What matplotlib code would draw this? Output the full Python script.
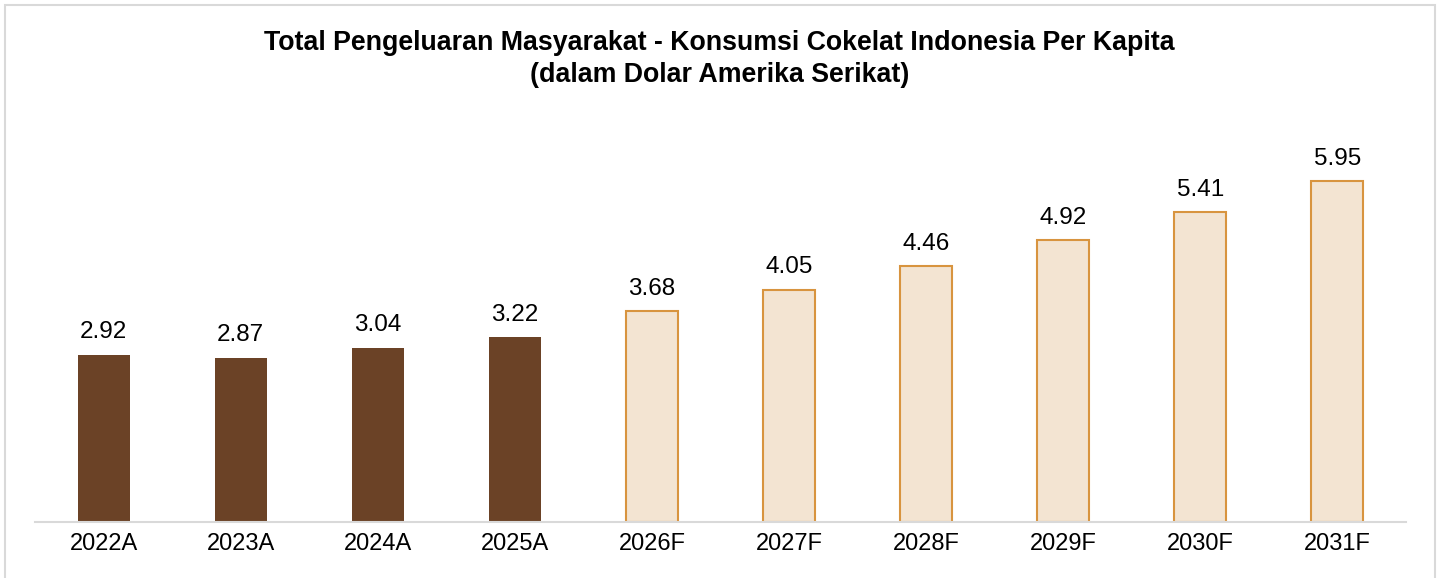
import matplotlib
matplotlib.use("Agg")
import matplotlib.pyplot as plt
from matplotlib.patches import Rectangle

plt.rcParams["font.family"] = ["Liberation Sans", "DejaVu Sans"]

years = ["2022A", "2023A", "2024A", "2025A", "2026F",
         "2027F", "2028F", "2029F", "2030F", "2031F"]
values = [2.92, 2.87, 3.04, 3.22, 3.68, 4.05, 4.46, 4.92, 5.41, 5.95]
is_forecast = [y.endswith("F") for y in years]

DARK = "#6B4226"
LIGHT = "#F3E4D2"
EDGE = "#D8943F"
GRID = "#D9D9D9"

W, H = 1439, 578
fig = plt.figure(figsize=(W / 100, H / 100), dpi=100)

# light frame around the whole chart
fig.patches.append(Rectangle((5 / W, -0.02), 1430 / W, 1.0 - 5 / H + 0.02,
                             transform=fig.transFigure, fill=False,
                             edgecolor=GRID, lw=1.5))

ax = fig.add_axes([35 / W, (H - 522) / H, 1371 / W, 422 / H])
x = range(len(years))
for i, (v, f) in enumerate(zip(values, is_forecast)):
    if f:
        ax.bar(i, v, width=0.38, color=LIGHT, edgecolor=EDGE, lw=1.5)
    else:
        ax.bar(i, v, width=0.38, color=DARK, edgecolor=DARK, lw=0)
    ax.text(i, v + 0.2, f"{v:.2f}", ha="center", va="bottom", fontsize=17.5)

ax.set_xlim(-0.5, len(years) - 0.5)
ax.set_ylim(0, 422 / 57.3)
ax.set_xticks(list(x))
ax.set_xticklabels(years, fontsize=17)
ax.tick_params(axis="x", length=0, pad=8)
ax.set_yticks([])
for s in ["top", "right", "left"]:
    ax.spines[s].set_visible(False)
ax.spines["bottom"].set_color(GRID)
ax.spines["bottom"].set_linewidth(1.5)

fig.text(0.5, 1 - 43 / H, "Total Pengeluaran Masyarakat - Konsumsi Cokelat Indonesia Per Kapita",
         ha="center", va="center", fontsize=19.3, fontweight="bold")
fig.text(0.5, 1 - 75 / H, "(dalam Dolar Amerika Serikat)",
         ha="center", va="center", fontsize=19.3, fontweight="bold")

fig.savefig("out.png", dpi=100)
